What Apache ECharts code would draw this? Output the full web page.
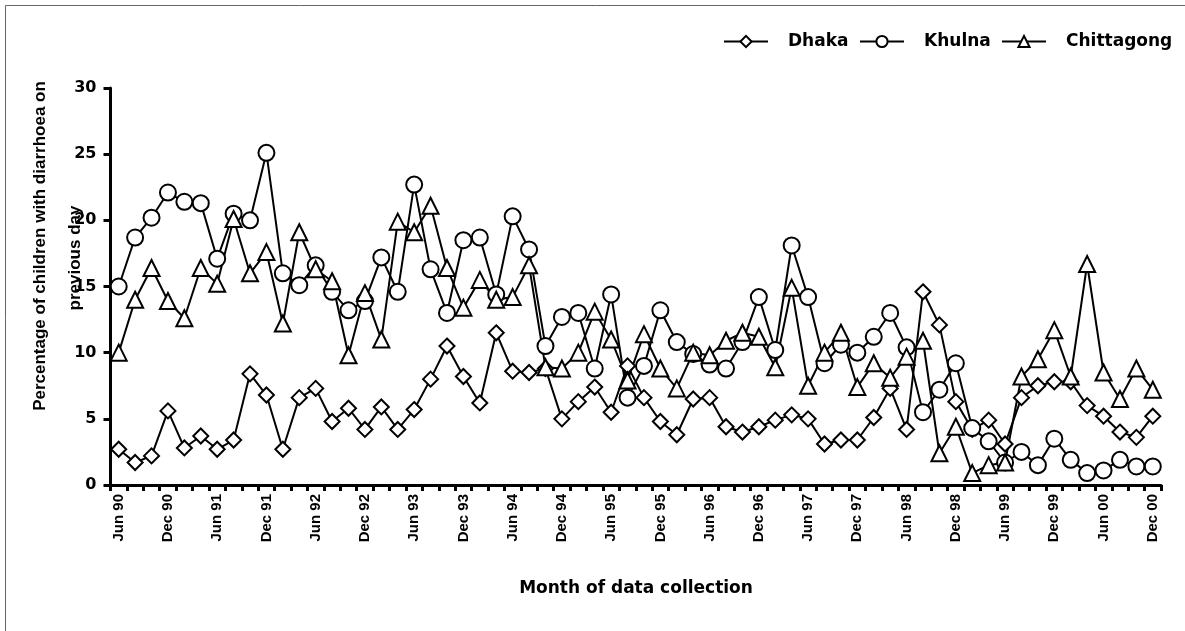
<!DOCTYPE html>
<html>
<head>
<meta charset="utf-8">
<style>
  html, body { margin: 0; padding: 0; background: #fff; }
  #chart { width: 1185px; height: 631px; }
</style>
<script src="https://cdn.jsdelivr.net/npm/echarts@6/dist/echarts.min.js"></script>
</head>
<body>
<div id="chart"></div>
<script>
// Survey months, one every two months from Jun 1990 to Dec 2000
const months = [
  'Jun 90','Aug 90','Oct 90','Dec 90','Feb 91','Apr 91','Jun 91','Aug 91','Oct 91','Dec 91',
  'Feb 92','Apr 92','Jun 92','Aug 92','Oct 92','Dec 92','Feb 93','Apr 93','Jun 93','Aug 93',
  'Oct 93','Dec 93','Feb 94','Apr 94','Jun 94','Aug 94','Oct 94','Dec 94','Feb 95','Apr 95',
  'Jun 95','Aug 95','Oct 95','Dec 95','Feb 96','Apr 96','Jun 96','Aug 96','Oct 96','Dec 96',
  'Feb 97','Apr 97','Jun 97','Aug 97','Oct 97','Dec 97','Feb 98','Apr 98','Jun 98','Aug 98',
  'Oct 98','Dec 98','Feb 99','Apr 99','Jun 99','Aug 99','Oct 99','Dec 99','Feb 00','Apr 00',
  'Jun 00','Aug 00','Oct 00','Dec 00'
];

// Percentage of children with diarrhoea on the previous day
const dhaka = [
  2.7, 1.7, 2.2, 5.6, 2.8, 3.7, 2.7, 3.4, 8.4, 6.8,
  2.7, 6.6, 7.3, 4.8, 5.8, 4.2, 5.9, 4.2, 5.7, 8.0,
  10.5, 8.2, 6.2, 11.5, 8.6, 8.5, 8.8, 5.0, 6.3, 7.4,
  5.5, 9.0, 6.6, 4.8, 3.8, 6.5, 6.6, 4.4, 4.0, 4.4,
  4.9, 5.3, 5.0, 3.1, 3.4, 3.4, 5.1, 7.3, 4.2, 14.6,
  12.1, 6.3, 4.2, 4.9, 3.1, 6.6, 7.5, 7.8, 7.8, 6.0,
  5.2, 4.0, 3.6, 5.2
];
const khulna = [
  15.0, 18.7, 20.2, 22.1, 21.4, 21.3, 17.1, 20.5, 20.0, 25.1,
  16.0, 15.1, 16.6, 14.6, 13.2, 13.9, 17.2, 14.6, 22.7, 16.3,
  13.0, 18.5, 18.7, 14.4, 20.3, 17.8, 10.5, 12.7, 13.0, 8.8,
  14.4, 6.6, 9.0, 13.2, 10.8, 9.9, 9.1, 8.8, 10.8, 14.2,
  10.2, 18.1, 14.2, 9.2, 10.6, 10.0, 11.2, 13.0, 10.4, 5.5,
  7.2, 9.2, 4.3, 3.3, 1.7, 2.5, 1.5, 3.5, 1.9, 0.9,
  1.1, 1.9, 1.4, 1.4
];
const chittagong = [
  10.0, 14.0, 16.4, 13.9, 12.6, 16.4, 15.2, 20.1, 16.0, 17.6,
  12.2, 19.1, 16.3, 15.4, 9.8, 14.5, 11.0, 19.9, 19.1, 21.1,
  16.4, 13.4, 15.5, 14.0, 14.2, 16.6, 8.9, 8.8, 10.0, 13.1,
  11.0, 7.9, 11.4, 8.8, 7.3, 10.0, 9.8, 10.9, 11.5, 11.2,
  8.9, 14.9, 7.5, 10.0, 11.5, 7.4, 9.2, 8.1, 9.7, 10.9,
  2.4, 4.4, 0.9, 1.5, 1.7, 8.2, 9.5, 11.7, 8.2, 16.7,
  8.5, 6.5, 8.8, 7.2
];

const yTicks = { min: 0, max: 30, step: 5 };

const WIDE = 'DejaVu Sans, Liberation Sans, Arial, sans-serif';
const NARROW = 'Liberation Sans, Arial, Helvetica, sans-serif';

function cityLine(name, values, symbol, size) {
  return {
    name: name,
    type: 'line',
    data: values,
    symbol: symbol,
    symbolSize: size,
    showAllSymbol: true,
    lineStyle: { color: '#000', width: 2 },
    itemStyle: { color: '#fff', borderColor: '#000', borderWidth: 2 },
    emphasis: { disabled: true },
    animation: false
  };
}

// one legend entry per city so each key sits at its own spot on the row
function legendEntry(name, left) {
  return {
    left: left,
    top: 33,
    padding: 0,
    itemWidth: 44,
    itemHeight: 14,
    selectedMode: false,
    textStyle: {
      fontFamily: WIDE, fontWeight: 'bold', fontSize: 17, color: '#000',
      padding: [0, 0, 0, 15]
    },
    data: [name]
  };
}

const chart = echarts.init(document.getElementById('chart'), null, { renderer: 'canvas' });

chart.setOption({
  backgroundColor: '#fff',
  animation: false,
  grid: { left: 110.5, right: 24, top: 88, bottom: 146, containLabel: false },
  legend: [
    legendEntry('Dhaka', 723),
    legendEntry('Khulna', 859),
    legendEntry('Chittagong', 1001)
  ],
  xAxis: {
    type: 'category',
    data: months,
    boundaryGap: true,
    axisLine: { show: true, lineStyle: { color: '#000', width: 3 } },
    axisTick: {
      show: true, interval: 0, alignWithLabel: false, inside: false,
      length: 6, lineStyle: { color: '#000', width: 3 }
    },
    axisLabel: {
      interval: 2, rotate: 90, margin: 9,
      fontFamily: NARROW, fontWeight: 'bold', fontSize: 15, color: '#000'
    },
    splitLine: { show: false }
  },
  yAxis: {
    type: 'value',
    min: yTicks.min,
    max: yTicks.max,
    interval: yTicks.step,
    axisLine: { show: true, lineStyle: { color: '#000', width: 3 } },
    axisTick: { show: true, inside: false, length: 7, lineStyle: { color: '#000', width: 3 } },
    axisLabel: {
      margin: 14,
      fontFamily: WIDE, fontWeight: 'bold', fontSize: 16, color: '#000'
    },
    splitLine: { show: false }
  },
  graphic: [
    // outer frame (top and left edges)
    { type: 'line', silent: true, shape: { x1: 5.5, y1: 5.5, x2: 1185, y2: 5.5 },
      style: { stroke: '#666', lineWidth: 1 } },
    { type: 'line', silent: true, shape: { x1: 5.5, y1: 5.5, x2: 5.5, y2: 631 },
      style: { stroke: '#666', lineWidth: 1 } },
    // y-axis title, two lines
    { type: 'text', silent: true, x: 40, y: 246, rotation: Math.PI / 2,
      style: { text: 'Percentage of children with diarrhoea on', fill: '#000',
        font: 'bold 17px ' + NARROW, textAlign: 'center', textVerticalAlign: 'middle' } },
    { type: 'text', silent: true, x: 75, y: 258, rotation: Math.PI / 2,
      style: { text: 'previous day', fill: '#000',
        font: 'bold 17px ' + NARROW, textAlign: 'center', textVerticalAlign: 'middle' } },
    // x-axis title
    { type: 'text', silent: true, x: 636, y: 589,
      style: { text: 'Month of data collection', fill: '#000',
        font: 'bold 17px ' + WIDE, textAlign: 'center', textVerticalAlign: 'middle' } }
  ],
  series: [
    cityLine('Dhaka', dhaka, 'diamond', 15),
    cityLine('Khulna', khulna, 'circle', 16),
    cityLine('Chittagong', chittagong, 'triangle', 16)
  ]
});
</script>
</body>
</html>
